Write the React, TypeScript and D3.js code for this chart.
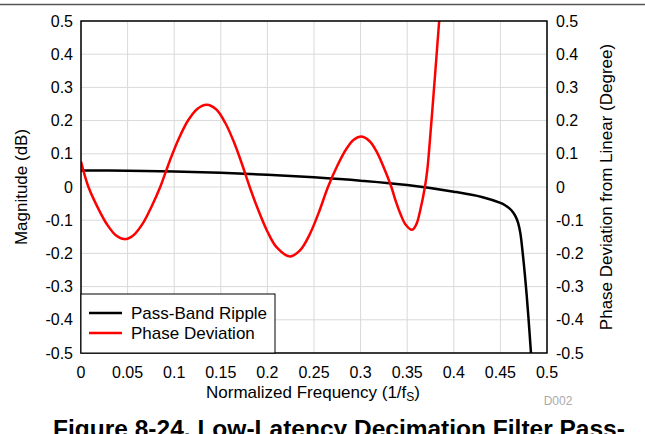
import React from "react";
import * as d3 from "d3";

const xTicks = [0, 0.05, 0.1, 0.15, 0.2, 0.25, 0.3, 0.35, 0.4, 0.45, 0.5];
const xTickLabels = ["0", "0.05", "0.1", "0.15", "0.2", "0.25", "0.3", "0.35", "0.4", "0.45", "0.5"];
const yTicks = [-0.5, -0.4, -0.3, -0.2, -0.1, 0, 0.1, 0.2, 0.3, 0.4, 0.5];
const yTickLabels = ["-0.5", "-0.4", "-0.3", "-0.2", "-0.1", "0", "0.1", "0.2", "0.3", "0.4", "0.5"];

// Pass-band ripple (dB)
const rippleFreq = [0, 0.05, 0.1, 0.15, 0.2, 0.25, 0.3, 0.35, 0.4, 0.43, 0.45, 0.455, 0.46, 0.4635, 0.4665, 0.469, 0.4714, 0.4736, 0.4771, 0.48, 0.4828];
const rippleMag = [0.05, 0.049, 0.047, 0.043, 0.037, 0.029, 0.019, 0.006, -0.014, -0.03, -0.048, -0.055, -0.065, -0.076, -0.09, -0.108, -0.139, -0.19, -0.29, -0.39, -0.5];

// Phase deviation (degree)
const phaseFreq = [
  0, 0.008, 0.018, 0.028, 0.038, 0.047, 0.056, 0.066, 0.076, 0.085,
  0.095, 0.105, 0.115, 0.125, 0.135, 0.145, 0.155, 0.165, 0.173, 0.181,
  0.19, 0.2, 0.21, 0.224, 0.235, 0.245, 0.255, 0.265,
  0.275, 0.285, 0.293, 0.301, 0.31, 0.318, 0.326, 0.333,
  0.338, 0.343, 0.348, 0.3553, 0.36, 0.364, 0.369,
  0.3715, 0.3735, 0.3772, 0.3843, 0.388,
];
const phaseDev = [
  0.077, 0.0, -0.062, -0.113, -0.147, -0.157, -0.146, -0.111, -0.057, 0.0,
  0.077, 0.146, 0.201, 0.236, 0.248, 0.234, 0.192, 0.129, 0.067, 0.0,
  -0.068, -0.134, -0.182, -0.209, -0.191, -0.145, -0.078, 0.0,
  0.064, 0.116, 0.143, 0.152, 0.137, 0.102, 0.051, 0.0,
  -0.045, -0.083, -0.112, -0.129, -0.111, -0.07, 0.0,
  0.05, 0.11, 0.24, 0.5, 0.64,
];

const seriesNames = ["Pass-Band Ripple", "Phase Deviation"];
const seriesColors = ["#000000", "#ff0000"];

const W = 645;
const H = 434;
const M = { left: 81, right: 547, top: 21, bottom: 353 };
const FONT = "'Liberation Sans', Arial, Helvetica, sans-serif";

export default function App() {
  const x = d3.scaleLinear().domain([0, 0.5]).range([M.left, M.right]);
  const y = d3.scaleLinear().domain([-0.5, 0.5]).range([M.bottom, M.top]);

  const ripplePts: [number, number][] = rippleFreq.map((f, i) => [f, rippleMag[i]]);
  const phasePts: [number, number][] = phaseFreq.map((f, i) => [f, phaseDev[i]]);

  const line = d3
    .line<[number, number]>()
    .x((d) => x(d[0]))
    .y((d) => y(d[1]))
    .curve(d3.curveCatmullRom.alpha(0.5));

  const fsTick = 16;
  const fsTitle = 17;

  return (
    <svg
      width={W}
      height={H}
      style={{ position: "absolute", left: 0, top: 0, background: "#fff" }}
      fontFamily={FONT}
    >
      <defs>
        <clipPath id="plotClip">
          <rect x={M.left} y={M.top} width={M.right - M.left} height={M.bottom - M.top} />
        </clipPath>
      </defs>
      <rect x={0} y={0} width={W} height={H} fill="#fff" />
      <line x1={0} x2={W} y1={4.5} y2={4.5} stroke="#555" strokeWidth={1.5} />

      {/* grid */}
      {xTicks.map((t) => (
        <line key={"gx" + t} x1={x(t)} x2={x(t)} y1={M.top} y2={M.bottom} stroke="#d9d9d9" strokeWidth={1} />
      ))}
      {yTicks.map((t) => (
        <line key={"gy" + t} x1={M.left} x2={M.right} y1={y(t)} y2={y(t)} stroke="#d9d9d9" strokeWidth={1} />
      ))}

      {/* series */}
      <g clipPath="url(#plotClip)">
        <path d={line(ripplePts) || ""} fill="none" stroke={seriesColors[0]} strokeWidth={2.5} />
        <path d={line(phasePts) || ""} fill="none" stroke={seriesColors[1]} strokeWidth={2.5} />
      </g>

      {/* frame */}
      <rect
        x={M.left}
        y={M.top}
        width={M.right - M.left}
        height={M.bottom - M.top}
        fill="none"
        stroke="#000"
        strokeWidth={1.5}
      />

      {/* x tick labels */}
      {xTicks.map((t, i) => (
        <text key={"xl" + t} x={x(t)} y={378} textAnchor="middle" fontSize={fsTick} fill="#000">
          {xTickLabels[i]}
        </text>
      ))}
      {/* left y labels */}
      {yTicks.map((t, i) => (
        <text key={"yl" + t} x={73} y={y(t) + 5.5} textAnchor="end" fontSize={fsTick} fill="#000">
          {yTickLabels[i]}
        </text>
      ))}
      {/* right y labels */}
      {yTicks.map((t, i) => (
        <text key={"yr" + t} x={556} y={y(t) + 5.5} textAnchor="start" fontSize={fsTick} fill="#000">
          {yTickLabels[i]}
        </text>
      ))}

      {/* axis titles */}
      <text x={313} y={397.5} textAnchor="middle" fontSize={fsTitle} fill="#000">
        Normalized Frequency (1/f
        <tspan fontSize={12} dy={3}>S</tspan>
        <tspan dy={-3}>)</tspan>
      </text>
      <text
        transform={`translate(27, ${(M.top + M.bottom) / 2}) rotate(-90)`}
        textAnchor="middle"
        fontSize={fsTitle}
        fill="#000"
      >
        Magnitude (dB)
      </text>
      <text
        transform={`translate(612, ${(M.top + M.bottom) / 2}) rotate(-90)`}
        textAnchor="middle"
        fontSize={fsTitle}
        fill="#000"
      >
        Phase Deviation from Linear (Degree)
      </text>

      {/* legend */}
      <rect x={M.left} y={294} width={194} height={M.bottom - 294} fill="#fff" stroke="#000" strokeWidth={1} />
      {seriesNames.map((n, i) => (
        <g key={n}>
          <line x1={89} x2={122} y1={313 + i * 20} y2={313 + i * 20} stroke={seriesColors[i]} strokeWidth={2.5} />
          <text x={131} y={313 + i * 20 + 6} fontSize={fsTitle} fill="#000">
            {n}
          </text>
        </g>
      ))}

      <text x={558} y={405} textAnchor="middle" fontSize={12} fill="#aaa">
        D002
      </text>

      <text x={339} y={437} textAnchor="middle" fontSize={24.5} fontWeight="bold" fill="#000">
        Figure 8-24. Low-Latency Decimation Filter Pass-
      </text>
    </svg>
  );
}
